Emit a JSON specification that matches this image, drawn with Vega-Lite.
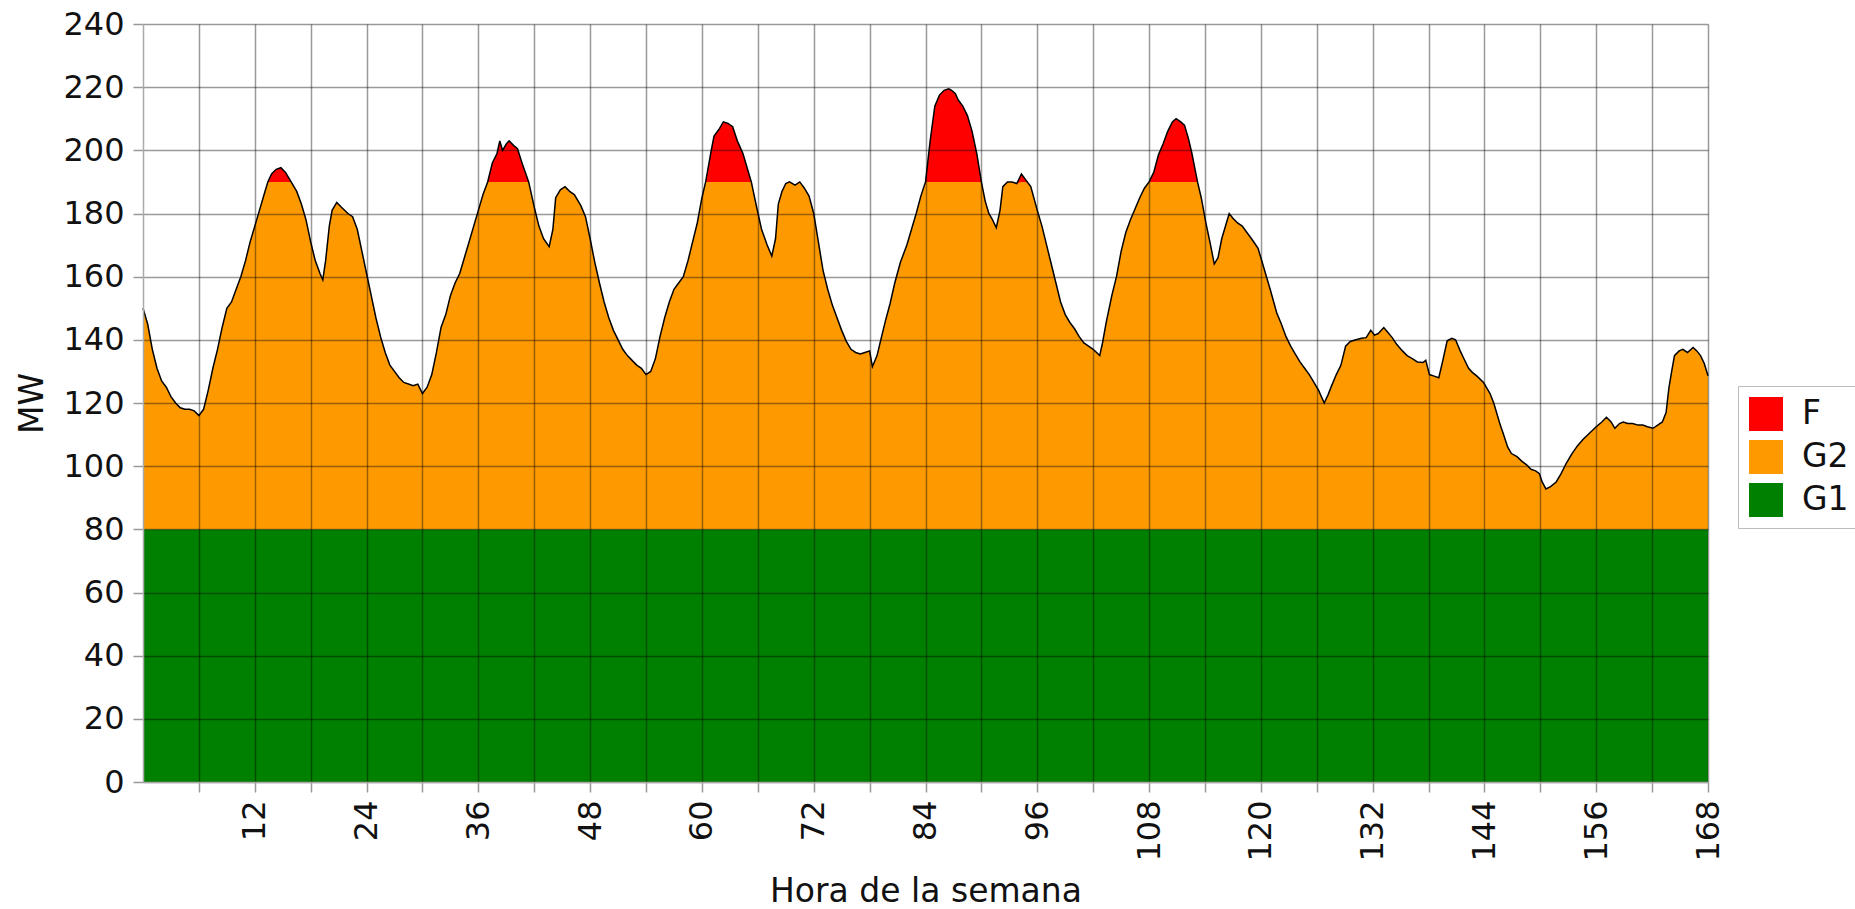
{
  "$schema": "https://vega.github.io/schema/vega-lite/v6.json",
  "width": 1565,
  "height": 758,
  "autosize": {"type": "none"},
  "padding": {"left": 143, "top": 24, "right": 147, "bottom": 127},
  "background": "white",
  "config": {"font": "DejaVu Sans", "view": {"stroke": null}},
  "data": {"values": [
    {"h":0,"G1":80,"G2":70,"F":0},{"h":0.5,"G1":80,"G2":65,"F":0},{"h":1,"G1":80,"G2":57,"F":0},{"h":1.5,"G1":80,"G2":51,"F":0},
    {"h":2,"G1":80,"G2":47,"F":0},{"h":2.5,"G1":80,"G2":45,"F":0},{"h":3,"G1":80,"G2":42,"F":0},{"h":3.5,"G1":80,"G2":40,"F":0},
    {"h":4,"G1":80,"G2":38.5,"F":0},{"h":4.5,"G1":80,"G2":38,"F":0},{"h":5,"G1":80,"G2":38,"F":0},{"h":5.5,"G1":80,"G2":37.5,"F":0},
    {"h":6,"G1":80,"G2":36,"F":0},{"h":6.5,"G1":80,"G2":38,"F":0},{"h":7,"G1":80,"G2":44,"F":0},{"h":7.5,"G1":80,"G2":51,"F":0},
    {"h":8,"G1":80,"G2":57,"F":0},{"h":8.5,"G1":80,"G2":64,"F":0},{"h":9,"G1":80,"G2":70,"F":0},{"h":9.5,"G1":80,"G2":72,"F":0},
    {"h":10,"G1":80,"G2":76,"F":0},{"h":10.5,"G1":80,"G2":80,"F":0},{"h":11,"G1":80,"G2":85,"F":0},{"h":11.5,"G1":80,"G2":91,"F":0},
    {"h":12,"G1":80,"G2":96,"F":0},{"h":12.5,"G1":80,"G2":101,"F":0},{"h":13,"G1":80,"G2":106,"F":0},{"h":13.4,"G1":80,"G2":110,"F":0},
    {"h":13.8,"G1":80,"G2":110,"F":2.5},{"h":14.3,"G1":80,"G2":110,"F":4},{"h":14.8,"G1":80,"G2":110,"F":4.5},{"h":15.3,"G1":80,"G2":110,"F":3},
    {"h":15.9,"G1":80,"G2":110,"F":0},{"h":16.5,"G1":80,"G2":107,"F":0},{"h":17,"G1":80,"G2":103,"F":0},{"h":17.5,"G1":80,"G2":98,"F":0},
    {"h":18,"G1":80,"G2":91,"F":0},{"h":18.5,"G1":80,"G2":85,"F":0},{"h":19,"G1":80,"G2":81,"F":0},{"h":19.3,"G1":80,"G2":79,"F":0},
    {"h":19.6,"G1":80,"G2":85,"F":0},{"h":20,"G1":80,"G2":96,"F":0},{"h":20.3,"G1":80,"G2":101,"F":0},{"h":20.8,"G1":80,"G2":103.5,"F":0},
    {"h":21.3,"G1":80,"G2":102,"F":0},{"h":22,"G1":80,"G2":100,"F":0},{"h":22.5,"G1":80,"G2":99,"F":0},{"h":23,"G1":80,"G2":95,"F":0},
    {"h":23.5,"G1":80,"G2":88,"F":0},{"h":24,"G1":80,"G2":81,"F":0},{"h":24.5,"G1":80,"G2":74,"F":0},{"h":25,"G1":80,"G2":67,"F":0},
    {"h":25.5,"G1":80,"G2":61,"F":0},{"h":26,"G1":80,"G2":56,"F":0},{"h":26.5,"G1":80,"G2":52,"F":0},{"h":27,"G1":80,"G2":50,"F":0},
    {"h":27.5,"G1":80,"G2":48,"F":0},{"h":28,"G1":80,"G2":46.5,"F":0},{"h":28.5,"G1":80,"G2":46,"F":0},{"h":29,"G1":80,"G2":45.5,"F":0},
    {"h":29.5,"G1":80,"G2":46,"F":0},{"h":30,"G1":80,"G2":43,"F":0},{"h":30.5,"G1":80,"G2":45,"F":0},{"h":31,"G1":80,"G2":49,"F":0},
    {"h":31.5,"G1":80,"G2":56,"F":0},{"h":32,"G1":80,"G2":64,"F":0},{"h":32.5,"G1":80,"G2":68,"F":0},{"h":33,"G1":80,"G2":74,"F":0},
    {"h":33.5,"G1":80,"G2":78,"F":0},{"h":34,"G1":80,"G2":81,"F":0},{"h":34.5,"G1":80,"G2":86,"F":0},{"h":35,"G1":80,"G2":91,"F":0},
    {"h":35.5,"G1":80,"G2":96,"F":0},{"h":36,"G1":80,"G2":101,"F":0},{"h":36.5,"G1":80,"G2":106,"F":0},{"h":37,"G1":80,"G2":110,"F":0},
    {"h":37.5,"G1":80,"G2":110,"F":6},{"h":38,"G1":80,"G2":110,"F":9},{"h":38.3,"G1":80,"G2":110,"F":13},{"h":38.6,"G1":80,"G2":110,"F":10},
    {"h":39,"G1":80,"G2":110,"F":12},{"h":39.3,"G1":80,"G2":110,"F":13},{"h":39.8,"G1":80,"G2":110,"F":11.5},{"h":40.2,"G1":80,"G2":110,"F":10.5},
    {"h":40.8,"G1":80,"G2":110,"F":5},{"h":41.4,"G1":80,"G2":110,"F":0},{"h":42,"G1":80,"G2":102,"F":0},{"h":42.5,"G1":80,"G2":96,"F":0},
    {"h":43,"G1":80,"G2":92,"F":0},{"h":43.6,"G1":80,"G2":89.5,"F":0},{"h":44,"G1":80,"G2":95,"F":0},{"h":44.3,"G1":80,"G2":105,"F":0},
    {"h":44.8,"G1":80,"G2":107.5,"F":0},{"h":45.3,"G1":80,"G2":108.5,"F":0},{"h":45.8,"G1":80,"G2":107,"F":0},{"h":46.3,"G1":80,"G2":106,"F":0},
    {"h":47,"G1":80,"G2":102.5,"F":0},{"h":47.5,"G1":80,"G2":99,"F":0},{"h":48,"G1":80,"G2":92,"F":0},{"h":48.5,"G1":80,"G2":84.5,"F":0},
    {"h":49,"G1":80,"G2":78,"F":0},{"h":49.5,"G1":80,"G2":72,"F":0},{"h":50,"G1":80,"G2":67,"F":0},{"h":50.5,"G1":80,"G2":63,"F":0},
    {"h":51,"G1":80,"G2":60,"F":0},{"h":51.5,"G1":80,"G2":57,"F":0},{"h":52,"G1":80,"G2":55,"F":0},{"h":52.5,"G1":80,"G2":53.5,"F":0},
    {"h":53,"G1":80,"G2":52,"F":0},{"h":53.5,"G1":80,"G2":51,"F":0},{"h":54,"G1":80,"G2":49,"F":0},{"h":54.5,"G1":80,"G2":50,"F":0},
    {"h":55,"G1":80,"G2":54,"F":0},{"h":55.5,"G1":80,"G2":61,"F":0},{"h":56,"G1":80,"G2":67,"F":0},{"h":56.5,"G1":80,"G2":72,"F":0},
    {"h":57,"G1":80,"G2":76,"F":0},{"h":57.5,"G1":80,"G2":78,"F":0},{"h":58,"G1":80,"G2":80,"F":0},{"h":58.5,"G1":80,"G2":85,"F":0},
    {"h":59,"G1":80,"G2":91,"F":0},{"h":59.5,"G1":80,"G2":97,"F":0},{"h":60,"G1":80,"G2":105,"F":0},{"h":60.4,"G1":80,"G2":110,"F":0},
    {"h":61,"G1":80,"G2":110,"F":10},{"h":61.3,"G1":80,"G2":110,"F":14.5},{"h":61.8,"G1":80,"G2":110,"F":16.5},{"h":62.3,"G1":80,"G2":110,"F":19},
    {"h":62.8,"G1":80,"G2":110,"F":18.5},{"h":63.3,"G1":80,"G2":110,"F":17.5},{"h":63.8,"G1":80,"G2":110,"F":13},{"h":64.4,"G1":80,"G2":110,"F":9},
    {"h":65,"G1":80,"G2":110,"F":3},{"h":65.3,"G1":80,"G2":110,"F":0},{"h":65.8,"G1":80,"G2":103,"F":0},{"h":66.4,"G1":80,"G2":95,"F":0},
    {"h":67,"G1":80,"G2":90,"F":0},{"h":67.5,"G1":80,"G2":86.5,"F":0},{"h":67.9,"G1":80,"G2":92,"F":0},{"h":68.2,"G1":80,"G2":103,"F":0},
    {"h":68.6,"G1":80,"G2":107,"F":0},{"h":69,"G1":80,"G2":109.5,"F":0},{"h":69.4,"G1":80,"G2":110,"F":0},{"h":70,"G1":80,"G2":109,"F":0},
    {"h":70.5,"G1":80,"G2":110,"F":0},{"h":71,"G1":80,"G2":108,"F":0},{"h":71.5,"G1":80,"G2":105.5,"F":0},{"h":72,"G1":80,"G2":100,"F":0},
    {"h":72.5,"G1":80,"G2":91,"F":0},{"h":73,"G1":80,"G2":82,"F":0},{"h":73.5,"G1":80,"G2":76,"F":0},{"h":74,"G1":80,"G2":71,"F":0},
    {"h":74.5,"G1":80,"G2":67,"F":0},{"h":75,"G1":80,"G2":63,"F":0},{"h":75.5,"G1":80,"G2":59.5,"F":0},{"h":76,"G1":80,"G2":57,"F":0},
    {"h":76.5,"G1":80,"G2":56,"F":0},{"h":77,"G1":80,"G2":55.5,"F":0},{"h":77.5,"G1":80,"G2":56,"F":0},{"h":78,"G1":80,"G2":56.5,"F":0},
    {"h":78.3,"G1":80,"G2":51.5,"F":0},{"h":78.8,"G1":80,"G2":55,"F":0},{"h":79.2,"G1":80,"G2":60,"F":0},{"h":79.7,"G1":80,"G2":66,"F":0},
    {"h":80.2,"G1":80,"G2":71.5,"F":0},{"h":80.7,"G1":80,"G2":78,"F":0},{"h":81.3,"G1":80,"G2":84.5,"F":0},{"h":82,"G1":80,"G2":90,"F":0},
    {"h":82.5,"G1":80,"G2":95,"F":0},{"h":83,"G1":80,"G2":100,"F":0},{"h":83.5,"G1":80,"G2":105.5,"F":0},{"h":84,"G1":80,"G2":110,"F":0},
    {"h":84.5,"G1":80,"G2":110,"F":13},{"h":85,"G1":80,"G2":110,"F":24},{"h":85.5,"G1":80,"G2":110,"F":27.5},{"h":86,"G1":80,"G2":110,"F":29},
    {"h":86.5,"G1":80,"G2":110,"F":29.5},{"h":86.8,"G1":80,"G2":110,"F":29},{"h":87.2,"G1":80,"G2":110,"F":28},{"h":87.5,"G1":80,"G2":110,"F":26},
    {"h":88,"G1":80,"G2":110,"F":24},{"h":88.5,"G1":80,"G2":110,"F":21},{"h":89,"G1":80,"G2":110,"F":16},{"h":89.5,"G1":80,"G2":110,"F":9},
    {"h":90,"G1":80,"G2":110,"F":0},{"h":90.4,"G1":80,"G2":104,"F":0},{"h":90.8,"G1":80,"G2":100,"F":0},{"h":91.2,"G1":80,"G2":98,"F":0},
    {"h":91.6,"G1":80,"G2":95.5,"F":0},{"h":92,"G1":80,"G2":101,"F":0},{"h":92.3,"G1":80,"G2":108.5,"F":0},{"h":92.8,"G1":80,"G2":110,"F":0},
    {"h":93.3,"G1":80,"G2":110,"F":0},{"h":93.8,"G1":80,"G2":109.5,"F":0},{"h":94.3,"G1":80,"G2":110,"F":2.5},{"h":94.8,"G1":80,"G2":110,"F":0.5},
    {"h":95.3,"G1":80,"G2":108.5,"F":0},{"h":96,"G1":80,"G2":101,"F":0},{"h":96.5,"G1":80,"G2":96,"F":0},{"h":97,"G1":80,"G2":90,"F":0},
    {"h":97.5,"G1":80,"G2":84,"F":0},{"h":98,"G1":80,"G2":78,"F":0},{"h":98.5,"G1":80,"G2":72,"F":0},{"h":99,"G1":80,"G2":68,"F":0},
    {"h":99.5,"G1":80,"G2":65.5,"F":0},{"h":100,"G1":80,"G2":63.5,"F":0},{"h":100.5,"G1":80,"G2":61,"F":0},{"h":101,"G1":80,"G2":59,"F":0},
    {"h":101.5,"G1":80,"G2":58,"F":0},{"h":102,"G1":80,"G2":57,"F":0},{"h":102.7,"G1":80,"G2":55,"F":0},{"h":103,"G1":80,"G2":59,"F":0},
    {"h":103.4,"G1":80,"G2":65.5,"F":0},{"h":104,"G1":80,"G2":74,"F":0},{"h":104.5,"G1":80,"G2":80,"F":0},{"h":105,"G1":80,"G2":88,"F":0},
    {"h":105.5,"G1":80,"G2":94,"F":0},{"h":106,"G1":80,"G2":98,"F":0},{"h":106.5,"G1":80,"G2":101.5,"F":0},{"h":107,"G1":80,"G2":105,"F":0},
    {"h":107.5,"G1":80,"G2":108,"F":0},{"h":108,"G1":80,"G2":110,"F":0},{"h":108.5,"G1":80,"G2":110,"F":3},{"h":109,"G1":80,"G2":110,"F":8.5},
    {"h":109.5,"G1":80,"G2":110,"F":12},{"h":110,"G1":80,"G2":110,"F":16},{"h":110.5,"G1":80,"G2":110,"F":19},{"h":110.9,"G1":80,"G2":110,"F":20},
    {"h":111.4,"G1":80,"G2":110,"F":19},{"h":111.8,"G1":80,"G2":110,"F":18},{"h":112.2,"G1":80,"G2":110,"F":14},{"h":112.6,"G1":80,"G2":110,"F":9},
    {"h":113.2,"G1":80,"G2":110,"F":0},{"h":113.6,"G1":80,"G2":105,"F":0},{"h":114.1,"G1":80,"G2":97,"F":0},{"h":114.6,"G1":80,"G2":90,"F":0},
    {"h":115,"G1":80,"G2":84,"F":0},{"h":115.4,"G1":80,"G2":86,"F":0},{"h":115.8,"G1":80,"G2":92,"F":0},{"h":116.3,"G1":80,"G2":97,"F":0},
    {"h":116.6,"G1":80,"G2":100,"F":0},{"h":117,"G1":80,"G2":98.5,"F":0},{"h":117.5,"G1":80,"G2":97,"F":0},{"h":118,"G1":80,"G2":96,"F":0},
    {"h":118.5,"G1":80,"G2":94,"F":0},{"h":119,"G1":80,"G2":92,"F":0},{"h":119.7,"G1":80,"G2":89,"F":0},{"h":120.2,"G1":80,"G2":84,"F":0},
    {"h":120.6,"G1":80,"G2":80,"F":0},{"h":121,"G1":80,"G2":76,"F":0},{"h":121.7,"G1":80,"G2":68.6,"F":0},{"h":122.2,"G1":80,"G2":65,"F":0},
    {"h":122.7,"G1":80,"G2":61,"F":0},{"h":123.2,"G1":80,"G2":58,"F":0},{"h":123.7,"G1":80,"G2":55.5,"F":0},{"h":124.2,"G1":80,"G2":53,"F":0},
    {"h":124.7,"G1":80,"G2":51,"F":0},{"h":125.2,"G1":80,"G2":49,"F":0},{"h":125.6,"G1":80,"G2":47,"F":0},{"h":126.2,"G1":80,"G2":44,"F":0},
    {"h":126.8,"G1":80,"G2":40,"F":0},{"h":127.2,"G1":80,"G2":42.5,"F":0},{"h":127.6,"G1":80,"G2":45.5,"F":0},{"h":128.1,"G1":80,"G2":49,"F":0},
    {"h":128.6,"G1":80,"G2":52,"F":0},{"h":129.1,"G1":80,"G2":58,"F":0},{"h":129.6,"G1":80,"G2":59.5,"F":0},{"h":130.2,"G1":80,"G2":60,"F":0},
    {"h":130.8,"G1":80,"G2":60.5,"F":0},{"h":131.3,"G1":80,"G2":60.7,"F":0},{"h":131.8,"G1":80,"G2":63,"F":0},{"h":132.2,"G1":80,"G2":61.5,"F":0},
    {"h":132.6,"G1":80,"G2":62,"F":0},{"h":133.2,"G1":80,"G2":63.9,"F":0},{"h":133.6,"G1":80,"G2":62.5,"F":0},{"h":134.1,"G1":80,"G2":60.7,"F":0},
    {"h":134.6,"G1":80,"G2":58.5,"F":0},{"h":135.2,"G1":80,"G2":56.5,"F":0},{"h":135.7,"G1":80,"G2":55,"F":0},{"h":136.3,"G1":80,"G2":54,"F":0},
    {"h":136.8,"G1":80,"G2":53,"F":0},{"h":137.4,"G1":80,"G2":52.8,"F":0},{"h":137.7,"G1":80,"G2":53.5,"F":0},{"h":138.1,"G1":80,"G2":49,"F":0},
    {"h":138.6,"G1":80,"G2":48.5,"F":0},{"h":139.1,"G1":80,"G2":48,"F":0},{"h":139.5,"G1":80,"G2":53,"F":0},{"h":140,"G1":80,"G2":59.7,"F":0},
    {"h":140.5,"G1":80,"G2":60.5,"F":0},{"h":140.9,"G1":80,"G2":60,"F":0},{"h":141.4,"G1":80,"G2":56.5,"F":0},{"h":141.8,"G1":80,"G2":54,"F":0},
    {"h":142.3,"G1":80,"G2":51,"F":0},{"h":142.7,"G1":80,"G2":49.7,"F":0},{"h":143.2,"G1":80,"G2":48.5,"F":0},{"h":143.9,"G1":80,"G2":46.5,"F":0},
    {"h":144.6,"G1":80,"G2":43,"F":0},{"h":145,"G1":80,"G2":40,"F":0},{"h":145.3,"G1":80,"G2":37,"F":0},{"h":145.7,"G1":80,"G2":33,"F":0},
    {"h":146,"G1":80,"G2":30.5,"F":0},{"h":146.5,"G1":80,"G2":26,"F":0},{"h":146.9,"G1":80,"G2":24,"F":0},{"h":147.5,"G1":80,"G2":23,"F":0},
    {"h":148,"G1":80,"G2":21.6,"F":0},{"h":148.5,"G1":80,"G2":20.5,"F":0},{"h":149,"G1":80,"G2":19,"F":0},{"h":149.5,"G1":80,"G2":18.5,"F":0},
    {"h":149.9,"G1":80,"G2":17.6,"F":0},{"h":150.2,"G1":80,"G2":15,"F":0},{"h":150.6,"G1":80,"G2":12.8,"F":0},{"h":151.1,"G1":80,"G2":13.5,"F":0},
    {"h":151.7,"G1":80,"G2":15,"F":0},{"h":152.2,"G1":80,"G2":17.5,"F":0},{"h":152.8,"G1":80,"G2":21,"F":0},{"h":153.4,"G1":80,"G2":24,"F":0},
    {"h":154,"G1":80,"G2":26.5,"F":0},{"h":154.6,"G1":80,"G2":28.5,"F":0},{"h":155.3,"G1":80,"G2":30.5,"F":0},{"h":156,"G1":80,"G2":32.5,"F":0},
    {"h":156.6,"G1":80,"G2":34,"F":0},{"h":157.1,"G1":80,"G2":35.5,"F":0},{"h":157.6,"G1":80,"G2":34,"F":0},{"h":158,"G1":80,"G2":32,"F":0},
    {"h":158.5,"G1":80,"G2":33.5,"F":0},{"h":158.9,"G1":80,"G2":34,"F":0},{"h":159.4,"G1":80,"G2":33.5,"F":0},{"h":159.9,"G1":80,"G2":33.5,"F":0},
    {"h":160.5,"G1":80,"G2":33,"F":0},{"h":161,"G1":80,"G2":33,"F":0},{"h":161.5,"G1":80,"G2":32.5,"F":0},{"h":162.1,"G1":80,"G2":32,"F":0},
    {"h":162.6,"G1":80,"G2":33,"F":0},{"h":163.1,"G1":80,"G2":34,"F":0},{"h":163.5,"G1":80,"G2":37,"F":0},{"h":163.8,"G1":80,"G2":44.7,"F":0},
    {"h":164.1,"G1":80,"G2":50,"F":0},{"h":164.4,"G1":80,"G2":55,"F":0},{"h":164.9,"G1":80,"G2":56.5,"F":0},{"h":165.3,"G1":80,"G2":57,"F":0},
    {"h":165.8,"G1":80,"G2":56,"F":0},{"h":166.4,"G1":80,"G2":57.6,"F":0},{"h":166.8,"G1":80,"G2":56.5,"F":0},{"h":167.2,"G1":80,"G2":55,"F":0},
    {"h":167.6,"G1":80,"G2":52.5,"F":0},{"h":168,"G1":80,"G2":48.6,"F":0}
  ]},
  "transform": [
    {"fold": ["G1", "G2", "F"], "as": ["serie", "MW"]},
    {"stack": "MW", "groupby": ["h"], "as": ["y0", "y1"]}
  ],
  "layer": [
    {
      "mark": {"type": "area", "interpolate": "linear", "opacity": 1},
      "encoding": {
        "x": {
          "field": "h", "type": "quantitative",
          "scale": {"domain": [0, 168], "nice": false, "zero": false},
          "axis": {
            "values": [6,12,18,24,30,36,42,48,54,60,66,72,78,84,90,96,102,108,114,120,126,132,138,144,150,156,162,168],
            "labelExpr": "datum.value % 12 === 0 ? datum.label : ''",
            "labelAngle": -90,
            "labelFontSize": 32,
            "labelColor": "#111",
            "labelPadding": 8,
            "labelFlush": false,
            "labelOverlap": false,
            "tickSize": 10,
            "tickColor": "#999",
            "tickWidth": 1.5,
            "domainColor": "#aaa",
            "domainWidth": 1.5,
            "grid": true,
            "gridColor": "#000",
            "gridOpacity": 0.4,
            "gridWidth": 1.5,
            "title": "Hora de la semana",
            "titleFontSize": 33,
            "titleFontWeight": "normal",
            "titleColor": "#111",
            "titlePadding": 14,
            "zindex": 1
          }
        },
        "y": {
          "field": "y1", "type": "quantitative", "stack": null,
          "scale": {"domain": [0, 240], "nice": false},
          "axis": {
            "values": [0,20,40,60,80,100,120,140,160,180,200,220,240],
            "labelFontSize": 32,
            "labelColor": "#111",
            "labelPadding": 9,
            "labelFlush": false,
            "labelOverlap": false,
            "tickSize": 10,
            "tickColor": "#999",
            "tickWidth": 1.5,
            "domainColor": "#aaa",
            "domainWidth": 1.5,
            "grid": true,
            "gridColor": "#000",
            "gridOpacity": 0.4,
            "gridWidth": 1.5,
            "title": "MW",
            "titleFontSize": 33,
            "titleFontWeight": "normal",
            "titleColor": "#111",
            "titlePadding": 13,
            "zindex": 1
          }
        },
        "y2": {"field": "y0"},
        "color": {
          "field": "serie", "type": "nominal",
          "scale": {"domain": ["F", "G2", "G1"], "range": ["#ff0000", "#ff9900", "#008000"]},
          "legend": {
            "orient": "none",
            "legendX": 1595,
            "legendY": 362,
            "title": null,
            "symbolType": "square",
            "symbolSize": 1156,
            "symbolOpacity": 1,
            "symbolStrokeWidth": 0,
            "labelFontSize": 33,
            "labelColor": "#111",
            "labelOffset": 19,
            "rowPadding": 9,
            "padding": 11,
            "strokeColor": "#bbb",
            "fillColor": "#ffffff"
          }
        }
      }
    },
    {
      "transform": [{"filter": "datum.serie === 'F'"}],
      "mark": {"type": "line", "color": "#000", "strokeWidth": 1.5},
      "encoding": {
        "x": {"field": "h", "type": "quantitative"},
        "y": {"field": "y1", "type": "quantitative"}
      }
    }
  ]
}
